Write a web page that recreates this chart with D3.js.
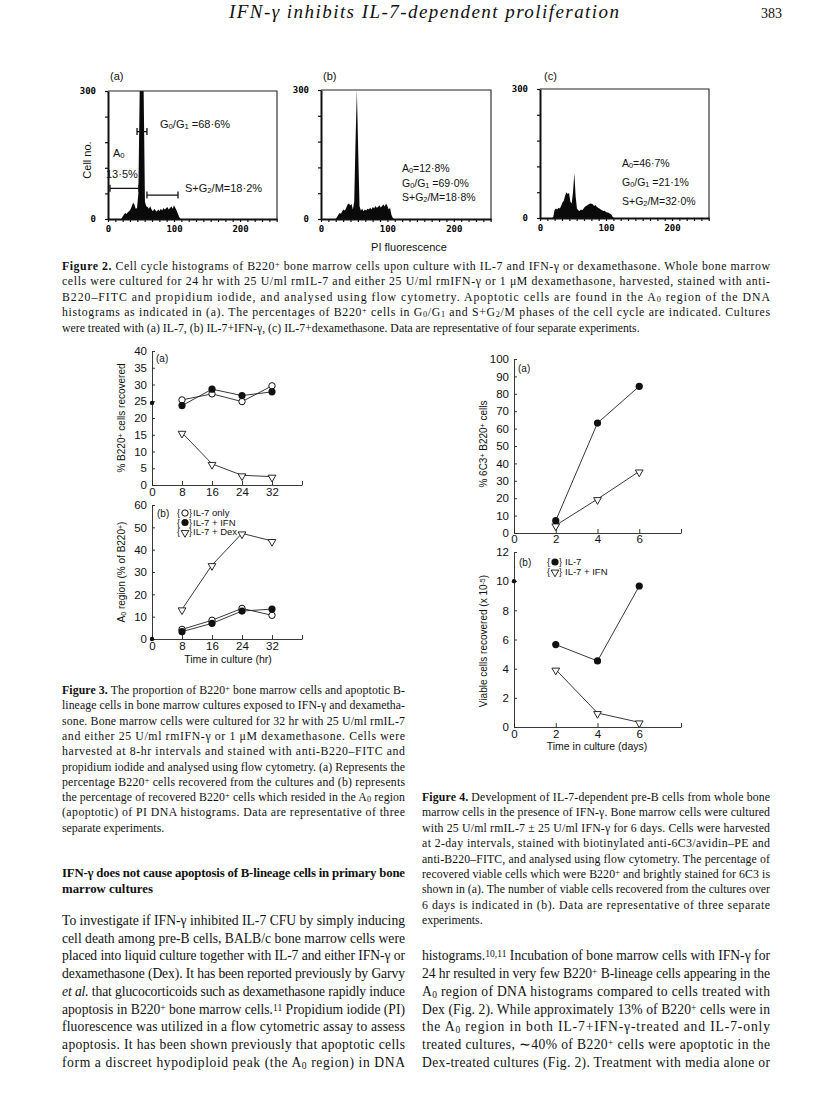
<!DOCTYPE html>
<html>
<head>
<meta charset="utf-8">
<script src="https://cdn.jsdelivr.net/npm/d3@7/dist/d3.min.js"></script>
<style>
  body { margin: 0; background: #fff; }
  svg { display: block; }
</style>
</head>
<body>
<svg id="page" width="816" height="1115"></svg>
<script>
// ---------- Figure 2: PI histograms (channel -> cell no.) ----------
const channels = [18,20,22,24,26,28,30,32,34,36,38,40,42,44,46,48,50,52,54,56,58,60,62,64,66,68,70,72,74,76,78,80,82,84,86,88,90,92,94,96,98,100,102,104,106,108,110,112,114];
const countsIL7 = [0,0,5,10,14,12,16,18,22,30,38,34,24,26,60,300,300,300,300,40,30,28,24,30,22,18,24,20,17,22,19,24,20,26,22,25,28,22,26,30,24,32,26,20,12,4,0,0,0];
const countsIFN = [0,0,0,4,10,14,12,18,22,20,26,34,36,32,35,22,40,180,300,160,30,20,24,18,22,20,24,22,26,22,28,25,30,26,28,32,27,30,34,29,36,30,22,26,10,3,0,0,0];
const countsDex = [0,2,18,22,20,24,22,28,36,40,52,60,56,58,38,34,60,104,50,22,18,16,20,18,22,26,28,30,32,34,33,32,28,30,26,24,22,20,18,16,17,14,13,12,10,8,3,0,0];
const panelTags = ['(a)', '(b)', '(c)'];
const a0Pct = ['13·5%', '12·8%', '46·7%'];
const g0g1Pct = ['68·6%', '69·0%', '21·1%'];
const sg2mPct = ['18·2%', '18·8%', '32·0%'];
// gates of panel (a): [from channel, to channel, cell no.]
const gateA0 = [3, 47, 72];
const gateG0G1 = [44, 59, 205];
const gateSG2M = [59, 106, 56];

// ---------- Figure 3: time course (hr) ----------
const hours = [8, 16, 24, 32];
const b220IL7 = [25.4, 27.2, 24.9, 29.6];
const b220IFN = [23.7, 28.6, 26.7, 27.8];
const b220Dex = [15.6, 6.3, 2.9, 2.5];
const b220Start = 24.5;
const a0IL7 = [4.3, 8.4, 13.7, 10.6];
const a0IFN = [3.3, 7.0, 12.5, 13.4];
const a0Dex = [13.3, 33.1, 47.3, 43.9];
const a0Start = 0;
const fig3Legend = ['IL-7 only', 'IL-7 + IFN', 'IL-7 + Dex'];

// ---------- Figure 4: time course (days) ----------
const days = [2, 4, 6];
const pct6c3IL7 = [7.1, 63.2, 84.3];
const pct6c3IFN = [4.4, 19.5, 35.4];
const viableIL7 = [5.65, 4.53, 9.67];
const viableIFN = [3.94, 0.96, 0.32];
const viableStart = 10;
const fig4Legend = ['IL-7', 'IL-7 + IFN'];

// ---------- text ----------
const fig2Caption = [
  '**Figure 2.** Cell cycle histograms of B220^{+} bone marrow cells upon culture with IL-7 and IFN-γ or dexamethasone. Whole bone marrow',
  'cells were cultured for 24 hr with 25 U/ml rmIL-7 and either 25 U/ml rmIFN-γ or 1 μM dexamethasone, harvested, stained with anti-',
  'B220–FITC and propidium iodide, and analysed using flow cytometry. Apoptotic cells are found in the A_{0} region of the DNA',
  'histograms as indicated in (a). The percentages of B220^{+} cells in G_{0}/G_{1} and S+G_{2}/M phases of the cell cycle are indicated. Cultures',
  'were treated with (a) IL-7, (b) IL-7+IFN-γ, (c) IL-7+dexamethasone. Data are representative of four separate experiments.'
];
const fig3Caption = [
  '**Figure 3.** The proportion of B220^{+} bone marrow cells and apoptotic B-',
  'lineage cells in bone marrow cultures exposed to IFN-γ and dexametha-',
  'sone. Bone marrow cells were cultured for 32 hr with 25 U/ml rmIL-7',
  'and either 25 U/ml rmIFN-γ or 1 μM dexamethasone. Cells were',
  'harvested at 8-hr intervals and stained with anti-B220–FITC and',
  'propidium iodide and analysed using flow cytometry. (a) Represents the',
  'percentage B220^{+} cells recovered from the cultures and (b) represents',
  'the percentage of recovered B220^{+} cells which resided in the A_{0} region',
  '(apoptotic) of PI DNA histograms. Data are representative of three',
  'separate experiments.'
];
const fig4Caption = [
  '**Figure 4.** Development of IL-7-dependent pre-B cells from whole bone',
  'marrow cells in the presence of IFN-γ. Bone marrow cells were cultured',
  'with 25 U/ml rmIL-7 ± 25 U/ml IFN-γ for 6 days. Cells were harvested',
  'at 2-day intervals, stained with biotinylated anti-6C3/avidin–PE and',
  'anti-B220–FITC, and analysed using flow cytometry. The percentage of',
  'recovered viable cells which were B220^{+} and brightly stained for 6C3 is',
  'shown in (a). The number of viable cells recovered from the cultures over',
  '6 days is indicated in (b). Data are representative of three separate',
  'experiments.'
];
const heading = [
  '**IFN-γ does not cause apoptosis of B-lineage cells in primary bone**',
  '**marrow cultures**'
];
const bodyLeft = [
  'To investigate if IFN-γ inhibited IL-7 CFU by simply inducing',
  'cell death among pre-B cells, BALB/c bone marrow cells were',
  'placed into liquid culture together with IL-7 and either IFN-γ or',
  'dexamethasone (Dex). It has been reported previously by Garvy',
  '*et al.* that glucocorticoids such as dexamethasone rapidly induce',
  'apoptosis in B220^{+} bone marrow cells.^{11} Propidium iodide (PI)',
  'fluorescence was utilized in a flow cytometric assay to assess',
  'apoptosis. It has been shown previously that apoptotic cells',
  'form a discreet hypodiploid peak (the A_{0} region) in DNA'
];
const bodyRight = [
  'histograms.^{10,11} Incubation of bone marrow cells with IFN-γ for',
  '24 hr resulted in very few B220^{+} B-lineage cells appearing in the',
  'A_{0} region of DNA histograms compared to cells treated with',
  'Dex (Fig. 2). While approximately 13% of B220^{+} cells were in',
  'the A_{0} region in both IL-7+IFN-γ-treated and IL-7-only',
  'treated cultures, ∼40% of B220^{+} cells were apoptotic in the',
  'Dex-treated cultures (Fig. 2). Treatment with media alone or'
];

const SANS = '"Liberation Sans", Arial, Helvetica, sans-serif';
const SERIF = '"Liberation Serif", "Times New Roman", serif';
const MONO = '"DejaVu Sans Mono", monospace';
const INK = '#111';

const svg = d3.select('#page');

// markup: **bold**, *italic*, _{sub}, ^{sup}
function addRich(t, str) {
  str.split(/(\*\*.+?\*\*|\*.+?\*|_\{.*?\}|\^\{.*?\})/).forEach(p => {
    if (!p) return;
    const s = t.append('tspan');
    if (p.startsWith('**')) s.attr('font-weight', 'bold').text(p.slice(2, -2));
    else if (p.startsWith('*')) s.attr('font-style', 'italic').text(p.slice(1, -1));
    else if (p.startsWith('_{')) s.attr('baseline-shift', '-18%').attr('font-size', '70%').text(p.slice(2, -1));
    else if (p.startsWith('^{')) s.attr('baseline-shift', '35%').attr('font-size', '70%').text(p.slice(2, -1));
    else s.text(p);
  });
  return t;
}

function textBlock(lines, x, y0, step, width, size, lastJustified) {
  lines.forEach((ln, i) => {
    const t = svg.append('text')
      .attr('x', x).attr('y', y0 + i * step)
      .attr('font-family', SERIF).attr('font-size', size).attr('fill', INK);
    if (i < lines.length - 1 || lastJustified) t.attr('textLength', width).attr('lengthAdjust', 'spacing');
    addRich(t, ln);
  });
}

function label(x, y, str, size, opts = {}) {
  const t = svg.append('text').attr('x', x).attr('y', y)
    .attr('font-family', opts.family || SANS).attr('font-size', size).attr('fill', INK)
    .attr('text-anchor', opts.anchor || 'start');
  if (opts.rotate) t.attr('transform', `rotate(-90,${x},${y})`);
  return addRich(t, str);
}

// ---------- header ----------
svg.append('text').attr('x', 229).attr('y', 18)
  .attr('font-family', SERIF).attr('font-style', 'italic').attr('font-size', 19).attr('fill', INK)
  .attr('textLength', 390).attr('lengthAdjust', 'spacing')
  .text('IFN-γ inhibits IL-7-dependent proliferation');
svg.append('text').attr('x', 782).attr('y', 18).attr('text-anchor', 'end')
  .attr('font-family', SERIF).attr('font-size', 14).attr('fill', INK).text('383');

// ---------- Figure 2 ----------
const fig2Boxes = [
  { left: 108, right: 277, top: 91, bottom: 219 },
  { left: 321, right: 491, top: 90, bottom: 219 },
  { left: 540, right: 709, top: 89, bottom: 218 }
];
const histSeries = [countsIL7, countsIFN, countsDex];

histSeries.forEach((counts, i) => {
  const b = fig2Boxes[i];
  const x = d3.scaleLinear().domain([0, 256]).range([b.left, b.right]);
  const y = d3.scaleLinear().domain([0, 300]).range([b.bottom, b.top]);
  const g = svg.append('g');

  g.append('path')
    .datum(channels.map((c, k) => ({ c, n: Math.min(counts[k], 300) })))
    .attr('d', d3.area().x(d => x(d.c)).y0(y(0)).y1(d => y(d.n)))
    .attr('fill', '#0a0a0a');

  g.append('path').attr('d', `M${b.left},${b.top}H${b.right}V${b.bottom}`)
    .attr('fill', 'none').attr('stroke', '#222').attr('stroke-width', 1.1);

  const xTicks = d3.range(0, 24).map(k => k * 100 / 9).filter(v => v <= 256);
  const xa = g.append('g').attr('transform', `translate(0,${b.bottom})`)
    .call(d3.axisBottom(x).tickValues(xTicks).tickSize(3).tickSizeOuter(0).tickPadding(4)
      .tickFormat(d => { const r = Math.round(d); return (Math.abs(d - r) < 1e-6 && r % 100 === 0) ? r : ''; }));
  const ya = g.append('g').attr('transform', `translate(${b.left},0)`)
    .call(d3.axisLeft(y).tickValues([0, 60, 120, 180, 240, 300]).tickSize(3).tickSizeOuter(0).tickPadding(9)
      .tickFormat(d => (d === 0 || d === 300) ? d : ''));
  [xa, ya].forEach(a => {
    a.attr('font-family', MONO).attr('font-size', 9).attr('font-weight', 'bold');
    a.select('.domain').attr('stroke-width', 2).attr('stroke', '#111');
    a.selectAll('line').attr('stroke', '#111').attr('stroke-width', 1.2);
  });

  label(b.left + 2 + (i === 2 ? 2 : 0), 80, panelTags[i], 11);
});

// panel (a) gates and labels
(function () {
  const b = fig2Boxes[0];
  const x = d3.scaleLinear().domain([0, 256]).range([b.left, b.right]);
  const y = d3.scaleLinear().domain([0, 300]).range([b.bottom, b.top]);
  [gateA0, gateG0G1, gateSG2M].forEach(gt => {
    const x0 = x(gt[0]), x1 = x(gt[1]), yy = y(gt[2]);
    svg.append('path').attr('d', `M${x0},${yy}H${x1}M${x0},${yy - 3.5}V${yy + 3.5}M${x1},${yy - 3.5}V${yy + 3.5}`)
      .attr('stroke', '#111').attr('stroke-width', 1.3).attr('fill', 'none');
  });
  label(160, 128, 'G_{0}/G_{1} =' + g0g1Pct[0], 11);
  label(113, 157, 'A_{0}', 11);
  label(106, 178, a0Pct[0], 11);
  label(185, 192, 'S+G_{2}/M=' + sg2mPct[0], 11);
  label(91, 160, 'Cell no.', 11, { anchor: 'middle', rotate: true });
})();
[[1, 402, [172, 187, 201]], [2, 622, [167, 186, 205]]].forEach(([i, x, ys]) => {
  label(x, ys[0], 'A_{0}=' + a0Pct[i], 10.5);
  label(x, ys[1], 'G_{0}/G_{1} =' + g0g1Pct[i], 10.5);
  label(x, ys[2], 'S+G_{2}/M=' + sg2mPct[i], 10.5);
});
label(409, 251, 'PI fluorescence', 11, { anchor: 'middle' });

// ---------- line charts ----------
function drawMarker(g, type, cx, cy) {
  if (type === 'open') {
    g.append('circle').attr('cx', cx).attr('cy', cy).attr('r', 3.2)
      .attr('fill', '#fff').attr('stroke', '#111').attr('stroke-width', 1);
  } else if (type === 'filled') {
    g.append('circle').attr('cx', cx).attr('cy', cy).attr('r', 3.6).attr('fill', '#111');
  } else {
    g.append('path').attr('d', d3.symbol().type(d3.symbolTriangle).size(26)())
      .attr('transform', `translate(${cx},${cy + 0.8}) rotate(180)`)
      .attr('fill', '#fff').attr('stroke', '#111').attr('stroke-width', 0.9);
  }
}

function lineChart(o) {
  const x = d3.scaleLinear().domain(o.xDomain).range(o.xRange);
  const y = d3.scaleLinear().domain(o.yDomain).range(o.yRange);
  const g = svg.append('g');
  const xa = g.append('g').attr('transform', `translate(0,${o.yRange[0]})`)
    .call(d3.axisBottom(x).tickValues(o.xTicks).tickSize(-4).tickSizeOuter(0).tickPadding(o.xPad)
      .tickFormat(d => o.xLabels.includes(d) ? d : ''));
  const ya = g.append('g').attr('transform', `translate(${o.xRange[0]},0)`)
    .call(d3.axisLeft(y).tickValues(o.yTicks).tickSize(-3).tickSizeOuter(0).tickPadding(5));
  [xa, ya].forEach(a => {
    a.attr('font-family', SANS).attr('font-size', 11.5).attr('fill', INK);
    a.selectAll('text').attr('fill', INK);
    a.selectAll('.domain, line').attr('stroke', '#222').attr('stroke-width', 0.9);
  });
  o.series.forEach(s => {
    const pts = o.xs.map((t, k) => [x(t), y(s.values[k])]);
    g.append('path').attr('d', d3.line()(pts)).attr('fill', 'none')
      .attr('stroke', '#222').attr('stroke-width', 0.9);
    pts.forEach(p => drawMarker(g, s.type, p[0], p[1]));
  });
  if (o.start != null) {
    g.append('circle').attr('cx', x(0)).attr('cy', y(o.start)).attr('r', 2.2).attr('fill', '#111');
  }
  label(o.tag[0], o.tag[1], o.tag[2], 10);
  label(o.ylab[0], o.ylab[1], o.ylab[2], 10, { anchor: 'middle', rotate: true });
  if (o.legend) {
    o.legend.items.forEach((it, k) => {
      const lx = o.legend.x, ly = o.legend.y + k * o.legend.step;
      label(lx, ly + 3, '{', 9);
      drawMarker(g, it.type, lx + 8, ly);
      label(lx + 12, ly + 3, '}', 9);
      label(lx + o.legend.gap, ly + 3, it.label, 9.5);
    });
  }
}

// Figure 3 (a)
lineChart({
  xDomain: [0, 40], xRange: [152, 302], yDomain: [0, 40], yRange: [485, 351],
  xTicks: [0, 8, 16, 24, 32, 40], xLabels: [0, 8, 16, 24, 32], xPad: 3,
  yTicks: d3.range(0, 41, 5), xs: hours,
  series: [
    { values: b220IL7, type: 'open' },
    { values: b220IFN, type: 'filled' },
    { values: b220Dex, type: 'tri' }
  ],
  start: b220Start, tag: [156, 362, '(a)'],
  ylab: [125, 418, '% B220^{+} cells recovered']
});
// Figure 3 (b)
lineChart({
  xDomain: [0, 40], xRange: [152, 302], yDomain: [0, 60], yRange: [639, 505],
  xTicks: [0, 8, 16, 24, 32, 40], xLabels: [0, 8, 16, 24, 32], xPad: 3,
  yTicks: d3.range(0, 61, 10), xs: hours,
  series: [
    { values: a0IL7, type: 'open' },
    { values: a0IFN, type: 'filled' },
    { values: a0Dex, type: 'tri' }
  ],
  start: a0Start, tag: [157, 517, '(b)'],
  ylab: [125, 572, 'A_{0} region (% of B220^{+})'],
  legend: { x: 177, y: 513, step: 9.5, gap: 16,
    items: [{ type: 'open', label: fig3Legend[0] }, { type: 'filled', label: fig3Legend[1] }, { type: 'tri', label: fig3Legend[2] }] }
});
label(228, 663, 'Time in culture (hr)', 10.5, { anchor: 'middle' });

// Figure 4 (a)
lineChart({
  xDomain: [0, 8], xRange: [514, 681], yDomain: [0, 100], yRange: [533, 359],
  xTicks: [0, 2, 4, 6, 8], xLabels: [0, 2, 4, 6], xPad: 2,
  yTicks: d3.range(0, 101, 10), xs: days,
  series: [
    { values: pct6c3IL7, type: 'filled' },
    { values: pct6c3IFN, type: 'tri' }
  ],
  start: null, tag: [518, 372, '(a)'],
  ylab: [487, 444, '% 6C3^{+} B220^{+} cells']
});
// Figure 4 (b)
lineChart({
  xDomain: [0, 8], xRange: [514, 681], yDomain: [0, 12], yRange: [727, 552],
  xTicks: [0, 2, 4, 6, 8], xLabels: [0, 2, 4, 6], xPad: 3,
  yTicks: d3.range(0, 13, 2), xs: days,
  series: [
    { values: viableIL7, type: 'filled' },
    { values: viableIFN, type: 'tri' }
  ],
  start: viableStart, tag: [519, 566, '(b)'],
  ylab: [487, 641, 'Viable cells recovered (x 10^{-5})'],
  legend: { x: 547, y: 562, step: 9.5, gap: 18,
    items: [{ type: 'filled', label: fig4Legend[0] }, { type: 'tri', label: fig4Legend[1] }] }
});
label(597, 750, 'Time in culture (days)', 10.5, { anchor: 'middle' });

// ---------- captions and body ----------
textBlock(fig2Caption, 62, 270, 15.4, 708, 11.8, false);
textBlock(fig3Caption, 62, 694, 15.3, 343, 11.8, false);
textBlock(fig4Caption, 422, 801, 15.4, 348, 11.8, false);
textBlock(heading, 62, 877, 16, 343, 12.8, false);
textBlock(bodyLeft, 62, 925, 17.7, 343, 13.6, true);
textBlock(bodyRight, 422, 960.4, 17.7, 348, 13.6, true);
</script>
</body>
</html>
